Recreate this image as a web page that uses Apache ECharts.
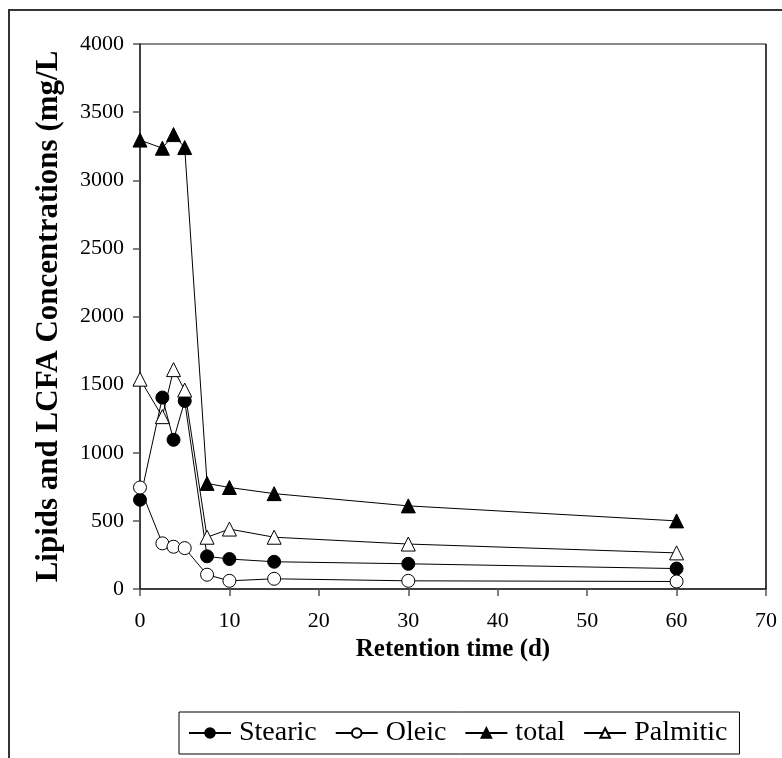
<!DOCTYPE html>
<html>
<head>
<meta charset="utf-8">
<script src="https://cdn.jsdelivr.net/npm/echarts@6/dist/echarts.min.js"></script>
<style>
html,body{margin:0;padding:0;background:#fff;}
#chart{width:782px;height:758px;}
</style>
</head>
<body>
<div id="chart"></div>
<script>
var retention = [0, 2.5, 3.75, 5, 7.5, 10, 15, 30, 60];
var stearic = [655, 1405, 1095, 1380, 240, 220, 200, 185, 150];
var oleic = [745, 335, 310, 300, 105, 60, 75, 60, 55];
var total = [3295, 3235, 3335, 3240, 775, 745, 700, 610, 500];
var palmitic = [1540, 1265, 1610, 1460, 380, 440, 380, 330, 265];
var seriesNames = ['Stearic', 'Oleic', 'total', 'Palmitic'];
var xTitle = 'Retention time (d)';
var yTitle = 'Lipids and LCFA Concentrations (mg/L';

var FONT = '"Liberation Serif", "Times New Roman", serif';

function pairs(ys) {
  return retention.map(function (x, i) { return [x, ys[i]]; });
}
function mk(name, ys, symbol, filled, size) {
  return {
    name: name,
    type: 'line',
    data: pairs(ys),
    symbol: symbol,
    symbolSize: size,
    showAllSymbol: true,
    lineStyle: { color: '#000', width: 1 },
    itemStyle: { color: filled ? '#000' : '#fff', borderColor: '#000', borderWidth: 1 },
    emphasis: { disabled: true },
    animation: false
  };
}
function plain(v) { return String(v); }

var chart = echarts.init(document.getElementById('chart'), null, { renderer: 'canvas' });
chart.setOption({
  backgroundColor: '#fff',
  animation: false,
  graphic: [
    { type: 'rect', shape: { x: 9, y: 10, width: 800, height: 800 }, style: { fill: 'none', stroke: '#333', lineWidth: 2 }, silent: true },
    { type: 'line', shape: { x1: 140, y1: 44, x2: 766, y2: 44 }, style: { stroke: '#888', lineWidth: 2 }, silent: true },
    { type: 'line', shape: { x1: 766, y1: 44, x2: 766, y2: 589 }, style: { stroke: '#000', lineWidth: 1.5 }, silent: true }
  ],
  grid: { left: 140, top: 44, right: 16, bottom: 169, containLabel: false },
  legend: {
    data: seriesNames,
    left: 179,
    top: 712,
    orient: 'horizontal',
    itemWidth: 42,
    itemHeight: 12,
    itemGap: 18,
    padding: [7, 12, 7, 9],
    borderColor: '#000',
    borderWidth: 1,
    backgroundColor: '#fff',
    textStyle: { fontFamily: FONT, fontSize: 28, color: '#000', padding: [0, 0, 0, 3] },
    selectedMode: false
  },
  xAxis: {
    type: 'value',
    min: 0, max: 70, interval: 10,
    name: xTitle,
    nameLocation: 'middle',
    nameGap: 44,
    nameTextStyle: { fontFamily: FONT, fontSize: 25, fontWeight: 'bold', color: '#000' },
    axisLine: { show: true, lineStyle: { color: '#000', width: 1.5 } },
    axisTick: { show: true, inside: false, length: 7, lineStyle: { color: '#555', width: 1.5 } },
    axisLabel: { fontFamily: FONT, fontSize: 22, color: '#000', margin: 21, formatter: plain },
    splitLine: { show: false }
  },
  yAxis: {
    type: 'value',
    min: 0, max: 4000, interval: 500,
    name: yTitle,
    nameLocation: 'middle',
    nameGap: 76,
    nameRotate: 90,
    nameTextStyle: { fontFamily: FONT, fontSize: 31, fontWeight: 'bold', color: '#000' },
    axisLine: { show: true, lineStyle: { color: '#000', width: 1.5 } },
    axisTick: { show: true, inside: false, length: 7, lineStyle: { color: '#555', width: 1.5 } },
    axisLabel: { fontFamily: FONT, fontSize: 22, color: '#000', margin: 16, formatter: plain },
    splitLine: { show: false }
  },
  series: [
    mk(seriesNames[0], stearic, 'circle', true, 13),
    mk(seriesNames[1], oleic, 'circle', false, 13),
    mk(seriesNames[2], total, 'triangle', true, 14),
    mk(seriesNames[3], palmitic, 'triangle', false, 14)
  ]
});
</script>
</body>
</html>
